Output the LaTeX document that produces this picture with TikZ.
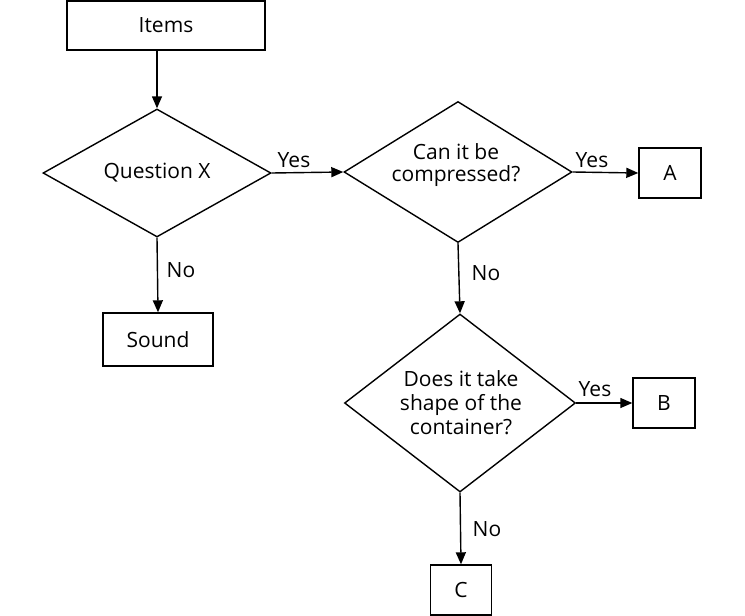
\documentclass[tikz,border=0pt]{standalone}
\usepackage{fontspec}
\setmainfont{Open Sans}
\usetikzlibrary{shapes.geometric,arrows.meta}
\begin{document}
\begin{tikzpicture}[x=1pt,y=-1pt,
  every node/.style={font=\fontsize{21}{24}\selectfont},
  box/.style={draw,line width=1.4pt,inner sep=0pt},
  decision/.style={draw,diamond,line width=1.4pt,inner sep=0pt,align=center},
  flow/.style={line width=1.4pt,-{Triangle[length=12pt,width=10pt]}},
  tag/.style={inner sep=0pt}]
\useasboundingbox (0,0) rectangle (745,616);
% boxes
\node[box,minimum width=198pt,minimum height=49pt] (items) at (166,25.3) {Items};
\node[box,minimum width=110pt,minimum height=53pt] (sound) at (158,339.5) {Sound};
\node[box,minimum width=62pt,minimum height=50pt] (a) at (670,173) {A};
\node[box,minimum width=62pt,minimum height=50pt] (b) at (664,403) {B};
\node[box,minimum width=61pt,minimum height=50pt] (c) at (461,590) {C};
% decisions
\node[decision,minimum width=228pt,minimum height=128pt,aspect=1.78] (qx) at (157,173) {Question X};
\node[decision,minimum width=228pt,minimum height=141pt,aspect=1.62] (cp) at (458,172) {};
\node[decision,minimum width=231pt,minimum height=178pt,aspect=1.3] (dt) at (460,403) {};
\node[align=center,font=\fontsize{21}{22}\selectfont] (cpt) at (456,165) {Can it be\\compressed?};
\node[align=center] (dtt) at (461,403) {Does it take\\shape of the\\container?};
% connectors
\draw[flow] (items.south -| qx.north) -- (qx.north);
\draw[flow] (qx.east) -- (cp.west);
\draw[flow] (qx.south) -- (sound.north);
\draw[flow] (cp.east) -- (a.west);
\draw[flow] (cp.south) -- (dt.north);
\draw[flow] (dt.east) -- (b.west);
\draw[flow] (dt.south) -- (c.north);
% branch labels
\node[tag] (l1) at (294,160) {Yes};
\node[tag] (l2) at (592,160) {Yes};
\node[tag] (l3) at (181,270) {No};
\node[tag] (l4) at (486,273) {No};
\node[tag] (l5) at (595,389) {Yes};
\node[tag] (l6) at (487,529) {No};
\end{tikzpicture}
\end{document}
